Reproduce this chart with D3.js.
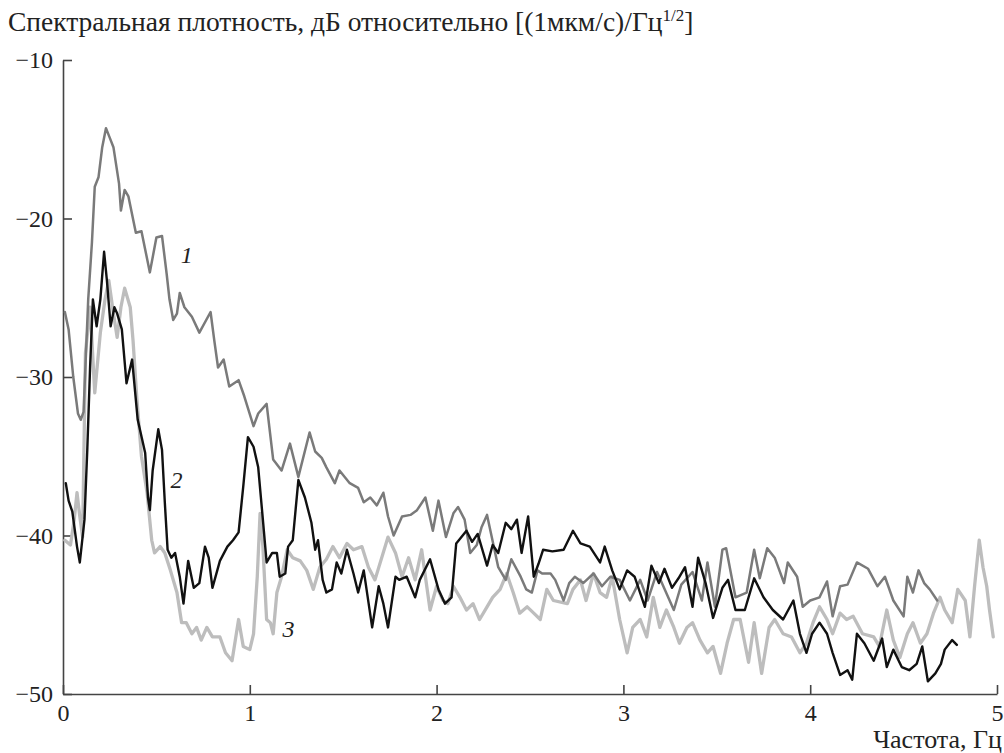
<!DOCTYPE html>
<html lang="ru">

<head>
    <meta charset="utf-8">
    <style>
        body {
            margin: 0;
            background: #fff;
        }

        svg text {
            font-family: "Liberation Serif", "DejaVu Serif", serif;
            fill: #222;
        }

        .curve {
            fill: none;
            stroke-linejoin: round;
            stroke-linecap: round;
        }

        .axis path,
        .axis line {
            stroke: #444;
            stroke-width: 1.6px;
        }
    </style>
</head>

<body>
    <svg width="1004" height="753"></svg>
    <script src="https://cdn.jsdelivr.net/npm/d3@7"></script>
    <script>

        // spectra: frequency (Hz) and level (dB)
        var freq1 = [0.01, 0.03, 0.055, 0.08, 0.095, 0.11, 0.135, 0.155, 0.17, 0.19, 0.21, 0.23, 0.25, 0.27, 0.30, 0.31, 0.33, 0.35, 0.39, 0.42,
            0.465, 0.50, 0.53, 0.555, 0.57, 0.59, 0.61, 0.625, 0.65, 0.69, 0.73, 0.79, 0.81, 0.83, 0.86, 0.89, 0.94, 0.97, 1.02, 1.045,
            1.09, 1.125, 1.17, 1.215, 1.26, 1.32, 1.35, 1.385, 1.41, 1.455, 1.48, 1.535, 1.58, 1.61, 1.645, 1.68, 1.715, 1.74, 1.77, 1.815,
            1.86, 1.895, 1.94, 1.98, 2.01, 2.05, 2.09, 2.115, 2.15, 2.18, 2.215, 2.24, 2.27, 2.33, 2.37, 2.40, 2.45, 2.48, 2.51, 2.54,
            2.565, 2.61, 2.635, 2.68, 2.71, 2.74, 2.785, 2.84, 2.885, 2.93, 2.98, 3.035, 3.09, 3.13, 3.18, 3.27, 3.31, 3.37, 3.42, 3.45,
            3.49, 3.53, 3.55, 3.60, 3.66, 3.70, 3.73, 3.77, 3.81, 3.86, 3.88, 3.93, 3.96, 4.00, 4.05, 4.09, 4.12, 4.16, 4.20, 4.25,
            4.31, 4.36, 4.40, 4.445, 4.50, 4.52, 4.55, 4.58, 4.61, 4.64, 4.68];
        var psd1 = [-25.9, -27.0, -30.0, -32.3, -32.7, -32.2, -25.1, -21.5, -18.0, -17.4, -15.5, -14.3, -14.9, -15.5, -17.8, -19.5, -18.2, -18.6, -20.9, -20.8,
            -23.4, -21.2, -21.1, -23.5, -25.1, -26.4, -26.0, -24.7, -25.6, -26.2, -27.2, -25.9, -27.7, -29.4, -28.9, -30.6, -30.2, -31.2, -33.1, -32.3,
            -31.7, -35.2, -35.9, -34.2, -36.3, -33.5, -34.7, -35.1, -35.7, -36.7, -35.9, -36.7, -37.0, -37.9, -37.6, -38.1, -37.3, -38.8, -40.0, -38.8,
            -38.7, -38.4, -37.6, -39.7, -37.8, -40.1, -38.6, -38.2, -39.0, -41.1, -40.6, -39.5, -38.7, -42.0, -42.8, -41.5, -42.6, -43.4, -43.6, -42.2,
            -42.4, -42.4, -42.8, -44.1, -43.0, -42.6, -43.0, -42.4, -43.2, -42.6, -42.8, -44.1, -42.8, -44.1, -42.3, -44.7, -43.1, -42.3, -44.1, -41.7,
            -44.5, -40.9, -40.8, -43.9, -43.6, -40.9, -42.7, -40.8, -41.4, -43.0, -41.7, -42.6, -44.5, -44.1, -43.9, -42.9, -45.1, -43.2, -43.1, -41.7,
            -42.1, -43.2, -42.6, -44.1, -45.1, -42.6, -43.6, -42.2, -43.0, -43.4, -44.1];

        var freq2 = [0.015, 0.03, 0.05, 0.075, 0.09, 0.115, 0.13, 0.145, 0.16, 0.18, 0.20, 0.22, 0.235, 0.255, 0.275, 0.29, 0.315, 0.34, 0.37, 0.40,
            0.44, 0.455, 0.465, 0.48, 0.51, 0.53, 0.545, 0.56, 0.58, 0.60, 0.625, 0.645, 0.67, 0.70, 0.73, 0.76, 0.78, 0.80, 0.84, 0.88,
            0.91, 0.94, 0.965, 0.99, 1.02, 1.045, 1.07, 1.09, 1.12, 1.145, 1.16, 1.19, 1.205, 1.23, 1.26, 1.295, 1.33, 1.35, 1.365, 1.39,
            1.41, 1.44, 1.465, 1.49, 1.52, 1.555, 1.58, 1.61, 1.655, 1.69, 1.715, 1.74, 1.78, 1.80, 1.84, 1.885, 1.91, 1.965, 2.01, 2.045,
            2.08, 2.105, 2.16, 2.19, 2.22, 2.27, 2.30, 2.33, 2.37, 2.40, 2.43, 2.455, 2.49, 2.52, 2.545, 2.57, 2.62, 2.68, 2.73, 2.77,
            2.82, 2.875, 2.90, 2.94, 2.98, 3.02, 3.06, 3.115, 3.15, 3.19, 3.22, 3.26, 3.295, 3.33, 3.37, 3.40, 3.44, 3.48, 3.53, 3.56,
            3.60, 3.65, 3.70, 3.75, 3.80, 3.855, 3.91, 3.945, 3.98, 4.01, 4.05, 4.09, 4.12, 4.16, 4.20, 4.225, 4.25, 4.29, 4.34, 4.385,
            4.41, 4.445, 4.49, 4.53, 4.57, 4.60, 4.63, 4.67, 4.70, 4.72, 4.76, 4.785];
        var psd2 = [-36.7, -37.8, -38.5, -40.7, -41.7, -39.0, -34.6, -29.4, -25.1, -26.8, -25.1, -22.1, -23.9, -26.8, -25.6, -26.0, -27.0, -30.4, -28.9, -32.7,
            -34.8, -37.6, -38.4, -35.9, -33.3, -34.6, -37.9, -40.9, -41.4, -41.1, -42.6, -44.3, -41.6, -43.3, -43.0, -40.7, -41.4, -43.3, -41.6, -40.7,
            -40.3, -39.8, -36.9, -33.8, -34.4, -35.7, -39.0, -41.7, -41.1, -41.1, -42.6, -42.4, -40.7, -40.3, -36.5, -37.6, -39.2, -40.9, -40.3, -42.8,
            -43.6, -43.4, -41.7, -42.4, -40.9, -42.4, -43.6, -42.2, -45.8, -43.2, -44.3, -45.8, -42.6, -42.8, -42.6, -43.9, -42.8, -41.5, -43.4, -44.3,
            -43.9, -40.5, -39.7, -40.4, -39.9, -41.9, -40.6, -41.1, -39.2, -39.6, -39.0, -41.1, -38.8, -42.6, -41.8, -40.9, -41.0, -40.9, -39.7, -40.5,
            -40.7, -41.7, -40.7, -42.2, -43.4, -42.2, -42.6, -44.5, -41.9, -43.0, -42.1, -43.3, -42.7, -42.0, -44.5, -41.4, -43.0, -45.2, -43.3, -42.8,
            -44.7, -44.7, -42.7, -43.9, -44.7, -45.3, -44.1, -46.2, -47.4, -46.2, -45.5, -46.2, -47.4, -48.8, -48.5, -49.1, -46.2, -46.8, -47.9, -46.5,
            -48.3, -47.2, -48.3, -48.5, -48.1, -47.0, -49.2, -48.7, -48.1, -47.2, -46.6, -46.9];

        var freq3 = [0.01, 0.04, 0.06, 0.075, 0.09, 0.105, 0.12, 0.145, 0.17, 0.20, 0.225, 0.245, 0.27, 0.29, 0.31, 0.33, 0.36, 0.375, 0.395, 0.42,
            0.45, 0.475, 0.49, 0.52, 0.545, 0.575, 0.61, 0.635, 0.66, 0.69, 0.715, 0.74, 0.77, 0.80, 0.84, 0.87, 0.905, 0.94, 0.965, 1.00,
            1.02, 1.04, 1.055, 1.07, 1.09, 1.11, 1.125, 1.145, 1.17, 1.20, 1.23, 1.27, 1.305, 1.34, 1.375, 1.41, 1.445, 1.48, 1.52, 1.555,
            1.60, 1.635, 1.67, 1.74, 1.78, 1.815, 1.85, 1.885, 1.92, 1.965, 2.00, 2.035, 2.06, 2.09, 2.125, 2.16, 2.195, 2.23, 2.27, 2.30,
            2.34, 2.375, 2.41, 2.445, 2.485, 2.52, 2.555, 2.59, 2.625, 2.70, 2.73, 2.77, 2.80, 2.84, 2.875, 2.91, 2.94, 2.98, 3.02, 3.05,
            3.09, 3.125, 3.16, 3.195, 3.23, 3.27, 3.30, 3.34, 3.37, 3.41, 3.45, 3.48, 3.52, 3.555, 3.59, 3.625, 3.67, 3.70, 3.74, 3.78,
            3.81, 3.855, 3.90, 3.945, 3.98, 4.015, 4.05, 4.09, 4.12, 4.16, 4.195, 4.23, 4.28, 4.34, 4.37, 4.41, 4.445, 4.48, 4.52, 4.55,
            4.59, 4.625, 4.66, 4.695, 4.72, 4.76, 4.79, 4.83, 4.855, 4.88, 4.905, 4.925, 4.945, 4.96, 4.98];
        var psd3 = [-40.3, -40.6, -39.0, -37.3, -38.8, -40.1, -28.5, -25.6, -31.0, -27.2, -25.1, -23.9, -26.0, -27.5, -25.6, -24.4, -25.6, -27.7, -31.3, -35.0,
            -37.3, -40.3, -41.1, -40.7, -41.1, -42.2, -43.6, -45.5, -45.5, -46.2, -45.8, -46.6, -45.8, -46.4, -46.4, -47.4, -47.9, -45.3, -47.0, -47.2,
            -46.2, -42.6, -38.6, -40.7, -45.3, -45.5, -46.2, -43.6, -42.6, -40.9, -41.4, -41.6, -42.2, -43.4, -42.0, -41.5, -40.7, -41.4, -40.5, -40.9,
            -40.7, -42.0, -42.8, -40.1, -41.1, -42.6, -41.4, -42.8, -40.9, -44.7, -43.2, -44.1, -44.3, -43.2, -43.9, -44.7, -44.3, -45.3, -44.5, -43.9,
            -43.4, -42.4, -43.6, -44.9, -44.5, -44.9, -45.3, -43.4, -44.1, -44.3, -43.4, -42.8, -44.1, -42.4, -43.6, -43.9, -42.6, -45.3, -47.4, -45.8,
            -45.3, -46.4, -43.9, -45.8, -44.7, -45.8, -46.8, -45.8, -45.5, -46.6, -47.4, -47.0, -48.7, -46.8, -45.3, -45.3, -48.0, -45.5, -48.7, -45.8,
            -45.3, -46.2, -46.4, -47.4, -46.8, -45.5, -44.5, -45.3, -46.2, -44.9, -45.3, -45.1, -46.2, -46.4, -47.0, -44.7, -46.6, -47.7, -46.2, -45.5,
            -46.8, -46.2, -44.9, -43.9, -44.7, -45.5, -43.4, -44.1, -46.4, -43.2, -40.3, -42.0, -43.2, -44.7, -46.4];

        var xTicks = [0, 1, 2, 3, 4, 5];
        var yTicks = [-10, -20, -30, -40, -50];

        var serif = "'Liberation Serif', 'DejaVu Serif', serif";

        var svg = d3.select("svg");

        var x = d3.scaleLinear()
            .domain([0, 5])
            .range([63, 997]);

        var y = d3.scaleLinear()
            .domain([-50, -10])
            .range([694, 60]);

        var minus = function (v) { return String(v).replace("-", "\u2212"); };

        // axes, ticks pointing inward
        var gx = svg.append("g")
            .attr("class", "axis")
            .attr("transform", "translate(0," + y(-50) + ")")
            .call(d3.axisBottom(x).tickValues(xTicks).tickSizeInner(-9).tickSizeOuter(0).tickPadding(10).tickFormat(minus));
        gx.attr("font-family", serif).attr("font-size", 24);

        var gy = svg.append("g")
            .attr("class", "axis")
            .attr("transform", "translate(" + x(0) + ",0)")
            .call(d3.axisLeft(y).tickValues(yTicks).tickSizeInner(-9).tickSizeOuter(0).tickPadding(10).tickFormat(minus));
        gy.attr("font-family", serif).attr("font-size", 24);

        var line = d3.line()
            .x(function (d) { return x(d[0]); })
            .y(function (d) { return y(d[1]); });

        var series = [
            { f: freq3, p: psd3, color: "#bdbdbd", width: 3.3 },
            { f: freq1, p: psd1, color: "#7a7a7a", width: 2.5 },
            { f: freq2, p: psd2, color: "#111", width: 2.4 }
        ];

        svg.selectAll(".curve")
            .data(series)
            .enter().append("path")
            .attr("class", "curve")
            .attr("stroke", function (d) { return d.color; })
            .attr("stroke-width", function (d) { return d.width; })
            .attr("d", function (d) { return line(d.f.map(function (v, i) { return [v, d.p[i]]; })); });

        // curve numbers
        var labels = [
            { t: "1", f: 0.63, p: -22.8 },
            { t: "2", f: 0.575, p: -37.0 },
            { t: "3", f: 1.175, p: -46.4 }
        ];

        svg.selectAll(".num")
            .data(labels)
            .enter().append("text")
            .attr("class", "num")
            .attr("x", function (d) { return x(d.f); })
            .attr("y", function (d) { return y(d.p); })
            .attr("font-family", serif)
            .attr("font-size", "24px")
            .attr("font-style", "italic")
            .text(function (d) { return d.t; });

        // titles
        var ttl = svg.append("text")
            .attr("x", 8)
            .attr("y", 31)
            .attr("font-family", serif)
            .attr("font-size", "27.5px");
        ttl.append("tspan").text("Спектральная плотность, дБ относительно [(1мкм/с)/Гц");
        ttl.append("tspan").attr("font-size", "17px").attr("dy", -10).text("1/2");
        ttl.append("tspan").attr("dy", 10).text("]");

        svg.append("text")
            .attr("x", 1002)
            .attr("y", 748)
            .attr("text-anchor", "end")
            .attr("font-family", serif)
            .attr("font-size", "26px")
            .text("Частота, Гц");

    </script>
</body>

</html>
